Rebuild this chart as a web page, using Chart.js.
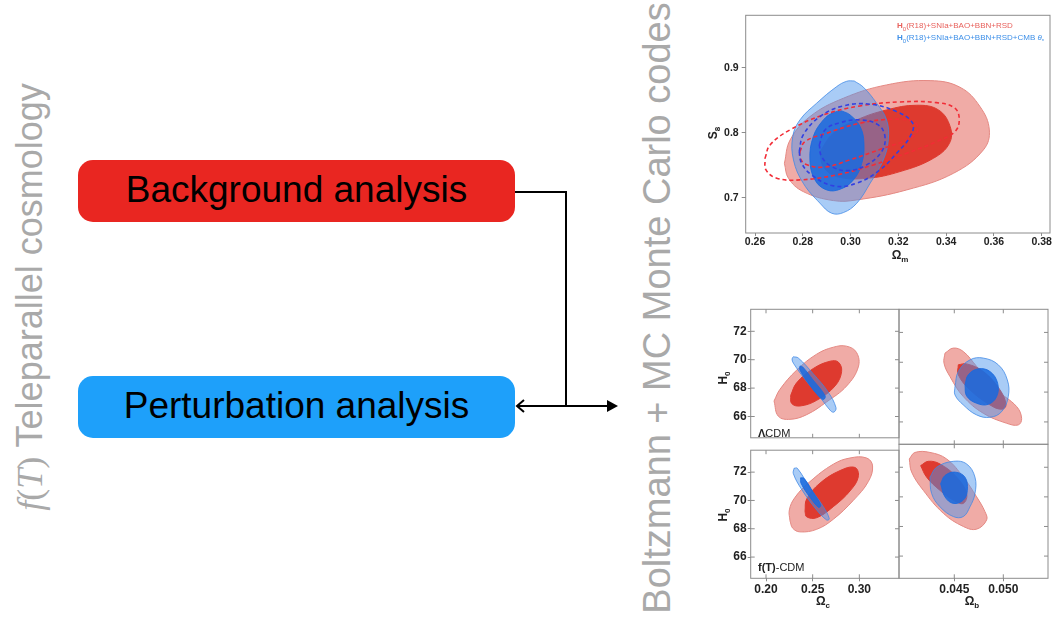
<!DOCTYPE html>
<html>
<head>
<meta charset="utf-8">
<script src="https://cdn.jsdelivr.net/npm/chart.js@4.4.1/dist/chart.umd.min.js"></script>
<style>
  body { margin: 0; width: 1052px; height: 617px; position: relative; overflow: hidden; background: #fff;
         font-family: 'Liberation Sans', Arial, sans-serif; }
  canvas { position: absolute; }
  .lbl { position: absolute; white-space: nowrap; }
  .rot { position: absolute; white-space: nowrap; transform: translate(-50%, -50%) rotate(-90deg); }
  .box { position: absolute; left: 78px; width: 437px; height: 62px; border-radius: 15px;
         color: #000; font-size: 37px; line-height: 60px; text-align: center; }
  .side { color: #a9a9a9; font-size: 36px; }
  .ax { font-weight: bold; font-size: 12px; color: #222; }
  .ax sub { font-size: 8px; }
  .legend { font-size: 8px; line-height: 12px; }
  .legend sub { font-size: 6px; }
</style>
</head>
<body>

<!-- left diagram -->
<div class="rot side" style="left:30px; top:297px;"><span style="font-family:'Liberation Serif',serif;"><i>f</i>(<i>T</i>)</span> Teleparallel cosmology</div>
<div class="box" style="top:160px; background:#E92621;">Background analysis</div>
<div class="box" style="top:376px; background:#1EA0FA;">Perturbation analysis</div>
<svg class="lbl" style="left:0; top:0;" width="700" height="617">
  <polyline points="515,192 566,192 566,406" fill="none" stroke="#000" stroke-width="2"/>
  <line x1="517" y1="406" x2="610" y2="406" stroke="#000" stroke-width="2"/>
  <polyline points="524,400 517,406 524,412" fill="none" stroke="#000" stroke-width="2"/>
  <polygon points="607,400 618,406 607,412" fill="#000"/>
</svg>
<div class="rot side" style="left:657px; top:308px; font-size:38px;">Boltzmann + MC Monte Carlo codes</div>

<!-- charts -->
<canvas id="top" width="352" height="270" style="left:700px; top:0;"></canvas>
<canvas id="tl" width="201" height="156" style="left:700px; top:290px;"></canvas>
<canvas id="tr" width="155" height="156" style="left:897px; top:290px;"></canvas>
<canvas id="bl" width="201" height="175" style="left:700px; top:442px;"></canvas>
<canvas id="br" width="155" height="175" style="left:897px; top:442px;"></canvas>

<div class="lbl legend" style="left:897px; top:20px; color:#E8615C;"><b>H</b><sub>0</sub>(R18)+SNIa+BAO+BBN+RSD</div>
<div class="lbl legend" style="left:897px; top:32px; color:#3D8FE8;"><b>H</b><sub>0</sub>(R18)+SNIa+BAO+BBN+RSD+CMB <i>θ</i><sub>*</sub></div>

<div class="rot ax" style="left:714px; top:133px;">S<sub>8</sub></div>
<div class="lbl ax" style="left:900px; top:256px; transform:translate(-50%,-50%);">Ω<sub>m</sub></div>
<div class="rot ax" style="left:724px; top:378px;">H<sub>0</sub></div>
<div class="rot ax" style="left:724px; top:515px;">H<sub>0</sub></div>
<div class="lbl ax" style="left:823px; top:602px; transform:translate(-50%,-50%);">Ω<sub>c</sub></div>
<div class="lbl ax" style="left:972px; top:602px; transform:translate(-50%,-50%);">Ω<sub>b</sub></div>
<div class="lbl" style="left:758px; top:427px; font-size:11px; color:#222;"><b>Λ</b>CDM</div>
<div class="lbl" style="left:758px; top:561px; font-size:11px; color:#222;"><b>f(T)</b>-CDM</div>

<script>
// ---- top panel: Omega_m vs S8 ----
const omTicks = [0.26, 0.28, 0.30, 0.32, 0.34, 0.36, 0.38];
const s8Ticks = [0.7, 0.8, 0.9];

// filled contours [Omega_m, S8]
const redOuter = [[0.2723,0.7533],[0.2747,0.7892],[0.2830,0.8251],[0.2970,0.8534],[0.3151,0.8739],[0.3333,0.8805],[0.3458,0.8703],[0.3542,0.8405],[0.3581,0.8046],[0.3556,0.7738],[0.3431,0.7379],[0.3235,0.7123],[0.3026,0.6969],[0.2928,0.6959],[0.2802,0.7097],[0.2740,0.7302]];
const redInner = [[0.2872,0.7713],[0.2928,0.7995],[0.3026,0.8200],[0.3151,0.8354],[0.3277,0.8426],[0.3368,0.8354],[0.3417,0.8097],[0.3414,0.7841],[0.3347,0.7610],[0.3207,0.7405],[0.3068,0.7302],[0.2942,0.7328],[0.2886,0.7482]];
const blueOuter = [[0.3015,0.8800],[0.3054,0.8703],[0.3109,0.8457],[0.3151,0.8200],[0.3158,0.7892],[0.3137,0.7584],[0.3082,0.7226],[0.3026,0.6918],[0.2970,0.6774],[0.2921,0.6764],[0.2872,0.6918],[0.2802,0.7226],[0.2761,0.7584],[0.2758,0.7944],[0.2788,0.8200],[0.2858,0.8457],[0.2942,0.8713],[0.2984,0.8795]];
const blueInner = [[0.2963,0.8339],[0.2998,0.8277],[0.3040,0.8097],[0.3056,0.7841],[0.3047,0.7533],[0.3012,0.7277],[0.2956,0.7133],[0.2900,0.7123],[0.2851,0.7277],[0.2830,0.7584],[0.2844,0.7944],[0.2886,0.8200],[0.2928,0.8313]];
// dashed contours
const redDashOuter = [[0.2642,0.7611],[0.2663,0.7815],[0.2746,0.8046],[0.2886,0.8277],[0.3039,0.8415],[0.3207,0.8477],[0.3360,0.8466],[0.3437,0.8380],[0.3455,0.8200],[0.3437,0.8020],[0.3360,0.7866],[0.3235,0.7688],[0.3095,0.7508],[0.2942,0.7354],[0.2788,0.7277],[0.2691,0.7303],[0.2646,0.7431]];
const redDashInner = [[0.2788,0.7712],[0.2809,0.7866],[0.2900,0.7995],[0.3039,0.8149],[0.3179,0.8211],[0.3262,0.8174],[0.3283,0.8057],[0.3249,0.7918],[0.3137,0.7765],[0.2997,0.7585],[0.2886,0.7472],[0.2809,0.7523],[0.2788,0.7626]];
const blueDashOuter = [[0.2785,0.7712],[0.2802,0.7969],[0.2872,0.8251],[0.2969,0.8415],[0.3081,0.8442],[0.3193,0.8328],[0.3260,0.8149],[0.3249,0.7943],[0.3193,0.7688],[0.3123,0.7431],[0.3026,0.7226],[0.2928,0.7185],[0.2837,0.7354],[0.2795,0.7534]];
const blueDashInner = [[0.2869,0.7815],[0.2893,0.8046],[0.2956,0.8158],[0.3039,0.8200],[0.3116,0.8123],[0.3144,0.7943],[0.3130,0.7712],[0.3067,0.7508],[0.2990,0.7420],[0.2921,0.7482],[0.2879,0.7635]];

// ---- bottom panels: H0 against Omega_c / Omega_b ----
const ocTicks = [0.20, 0.25, 0.30];
const obTicks = [0.045, 0.050];
const h0Ticks = [66, 68, 70, 72];

// LCDM, Omega_c vs H0
const lcdmOcRedOuter = [[0.2086,67.09],[0.2150,67.92],[0.2329,69.27],[0.2543,70.39],[0.2721,70.88],[0.2864,70.95],[0.2971,70.50],[0.2989,69.49],[0.2864,68.15],[0.2650,67.03],[0.2436,66.13],[0.2257,65.80],[0.2132,66.02]];
const lcdmOcRedInner = [[0.2264,67.48],[0.2328,68.37],[0.2507,69.38],[0.2685,69.89],[0.2775,69.83],[0.2810,69.16],[0.2739,68.15],[0.2543,67.14],[0.2364,66.74],[0.2275,66.92]];
const lcdmOcBlueOuter = [[0.2293,70.21],[0.2346,70.12],[0.2507,69.00],[0.2668,67.70],[0.2750,66.62],[0.2728,66.31],[0.2693,66.40],[0.2585,67.30],[0.2428,68.53],[0.2293,69.76],[0.2279,70.05]];
const lcdmOcBlueInner = [[0.2364,69.56],[0.2393,69.49],[0.2507,68.55],[0.2632,67.48],[0.2621,67.21],[0.2585,67.30],[0.2471,68.19],[0.2364,69.27]];

// LCDM, Omega_b vs H0
const lcdmObRedOuter = [[0.04405,70.61],[0.04490,70.95],[0.04592,70.72],[0.04728,69.72],[0.04932,68.15],[0.05136,67.03],[0.05187,66.24],[0.05153,65.80],[0.05034,65.91],[0.04796,66.58],[0.04592,67.70],[0.04456,69.04],[0.04395,69.94]];
const lcdmObRedInner = [[0.04541,69.83],[0.04626,69.89],[0.04796,69.38],[0.04966,68.15],[0.05027,67.14],[0.04983,66.85],[0.04864,67.14],[0.04660,68.15],[0.04541,69.16]];
const lcdmObBlueOuter = [[0.04507,68.37],[0.04541,69.38],[0.04660,70.16],[0.04796,70.28],[0.04949,69.83],[0.05041,68.82],[0.05051,67.70],[0.04983,66.69],[0.04864,66.31],[0.04728,66.47],[0.04592,67.14],[0.04507,67.81]];
const lcdmObBlueInner = [[0.04609,68.48],[0.04643,69.16],[0.04745,69.56],[0.04864,69.38],[0.04942,68.60],[0.04932,67.70],[0.04847,67.18],[0.04728,67.25],[0.04626,67.74]];

// f(T)-CDM, Omega_c vs H0
const ftOcRedOuter = [[0.2257,68.56],[0.2250,69.33],[0.2311,70.22],[0.2471,71.33],[0.2721,72.56],[0.2900,73.00],[0.3078,73.00],[0.3142,72.44],[0.3096,71.33],[0.2935,70.00],[0.2721,68.67],[0.2543,67.96],[0.2364,67.78],[0.2286,68.04]];
const ftOcRedInner = [[0.2418,69.22],[0.2436,70.11],[0.2578,71.22],[0.2793,72.11],[0.2953,72.33],[0.2989,71.67],[0.2900,70.67],[0.2721,69.56],[0.2543,68.78],[0.2436,68.84]];
const ftOcBlueOuter = [[0.2300,72.27],[0.2336,72.27],[0.2471,70.89],[0.2614,69.56],[0.2678,68.71],[0.2650,68.62],[0.2543,69.33],[0.2382,70.78],[0.2293,71.89]];
const ftOcBlueInner = [[0.2371,71.60],[0.2407,71.56],[0.2507,70.56],[0.2586,69.67],[0.2564,69.51],[0.2471,70.22],[0.2375,71.22]];

// f(T)-CDM, Omega_b vs H0
const ftObRedOuter = [[0.04041,72.56],[0.04099,73.00],[0.04252,73.00],[0.04422,72.56],[0.04592,71.33],[0.04728,70.00],[0.04813,69.00],[0.04830,68.44],[0.04728,67.82],[0.04592,68.00],[0.04388,68.89],[0.04184,70.44],[0.04065,71.67]];
const ftObRedInner = [[0.04157,72.11],[0.04235,72.40],[0.04354,72.22],[0.04524,71.33],[0.04626,70.22],[0.04592,69.56],[0.04490,69.78],[0.04354,70.44],[0.04218,71.33]];
const ftObBlueOuter = [[0.04252,71.33],[0.04320,72.00],[0.04490,72.40],[0.04626,72.22],[0.04711,71.33],[0.04711,70.22],[0.04660,69.33],[0.04592,68.67],[0.04490,68.67],[0.04354,69.33],[0.04269,70.22]];
const ftObBlueInner = [[0.04361,70.89],[0.04405,71.44],[0.04507,71.67],[0.04609,71.33],[0.04633,70.44],[0.04592,69.78],[0.04490,69.56],[0.04405,70.00]];

// styles
const COL = {
  redLight: '#F0ABA6', redEdge: '#E48983',
  redDark: '#DE3A2F',
  blueLight: 'rgba(72,146,236,0.47)', blueEdge: 'rgba(60,135,230,0.75)',
  blueDark: 'rgba(26,106,222,0.87)',
  redDash: '#F22C36', blueDash: '#3140E2',
  frame: '#8c8c8c', tick: '#222'
};
const topFont = { family: "'Liberation Sans', Arial, sans-serif", size: 10.5, weight: 'bold' };
const panelFont = { family: "'Liberation Sans', Arial, sans-serif", size: 12, weight: 'bold' };

function closed(pts) {
  return pts.concat([pts[0]]).map(p => ({ x: p[0], y: p[1] }));
}
function filled(pts, bg, edge) {
  return { data: closed(pts), showLine: true, fill: 'shape', backgroundColor: bg,
           borderColor: edge || bg, borderWidth: 1, pointRadius: 0, tension: 0.4 };
}
function dashed(pts, color) {
  return { data: closed(pts), showLine: true, fill: false, borderColor: color,
           borderWidth: 1.6, borderDash: [4, 3], pointRadius: 0, tension: 0.4 };
}

// box around the plot area + small inward ticks
const framePlugin = {
  id: 'frame',
  afterDatasetsDraw(chart, args, opts) {
    const { ctx, chartArea: a, scales } = chart;
    const len = opts.len || 0;
    ctx.save();
    ctx.strokeStyle = COL.frame;
    ctx.lineWidth = 1;
    ctx.strokeRect(a.left, a.top, a.right - a.left, a.bottom - a.top);
    ctx.beginPath();
    (opts.x || []).forEach(v => {
      const p = scales.x.getPixelForValue(v);
      ctx.moveTo(p, a.top); ctx.lineTo(p, a.top + len);
      ctx.moveTo(p, a.bottom); ctx.lineTo(p, a.bottom - len);
    });
    (opts.y || []).forEach(v => {
      const p = scales.y.getPixelForValue(v);
      ctx.moveTo(a.left, p); ctx.lineTo(a.left + len, p);
      ctx.moveTo(a.right, p); ctx.lineTo(a.right - len, p);
    });
    ctx.stroke();
    ctx.restore();
  }
};

function axis(min, max, ticks, fmt, show, size, tickLen, pad, font) {
  return {
    type: 'linear', min: min, max: max,
    display: true,
    afterBuildTicks: s => { s.ticks = ticks.map(v => ({ value: v })); },
    afterFit: s => { if (s.isHorizontal()) s.height = size; else s.width = size; },
    ticks: { display: show, callback: fmt, font: font || panelFont, color: COL.tick, padding: pad, autoSkip: false, maxRotation: 0 },
    grid: { display: show, drawOnChartArea: false, tickLength: tickLen, color: COL.frame },
    border: { display: false }
  };
}

function makeChart(id, datasets, scales, padding, inTicks) {
  return new Chart(document.getElementById(id), {
    type: 'scatter',
    data: { datasets: datasets.slice().reverse() },   // first dataset is drawn on top
    options: {
      responsive: false, animation: false, events: [],
      layout: { padding: padding },
      plugins: { legend: { display: false }, tooltip: { enabled: false }, frame: inTicks },
      scales: scales
    },
    plugins: [framePlugin]
  });
}

// top panel
makeChart('top', [
  filled(redOuter, COL.redLight, COL.redEdge),
  filled(redInner, COL.redDark),
  filled(blueOuter, COL.blueLight, COL.blueEdge),
  filled(blueInner, COL.blueDark),
  dashed(redDashOuter, COL.redDash),
  dashed(redDashInner, COL.redDash),
  dashed(blueDashOuter, COL.blueDash),
  dashed(blueDashInner, COL.blueDash)
], {
  x: axis(0.2561, 0.3835, omTicks, v => v.toFixed(2), true, 37, 3, 0, topFont),
  y: axis(0.646, 0.981, s8Ticks, v => v.toFixed(1), true, 45.7, 4, 3, topFont)
}, { top: 15.3, right: 2, left: 0, bottom: 0 }, { len: 0 });

const ocFmt = v => v.toFixed(2), obFmt = v => v.toFixed(3), h0Fmt = v => String(v);
const H0MIN = 64.5, H0MAX = 73.55;

makeChart('tl', [
  filled(lcdmOcRedOuter, COL.redLight, COL.redEdge),
  filled(lcdmOcRedInner, COL.redDark),
  filled(lcdmOcBlueOuter, COL.blueLight, COL.blueEdge),
  filled(lcdmOcBlueInner, COL.blueDark)
], {
  x: axis(0.1836, 0.3425, ocTicks, ocFmt, false, 0, 0, 0),
  y: axis(H0MIN, H0MAX, h0Ticks, h0Fmt, true, 50.7, 3, 1)
}, { top: 19.3, right: 2, left: 0, bottom: 1.7 }, { len: 4, x: ocTicks, y: h0Ticks });

makeChart('tr', [
  filled(lcdmObRedOuter, COL.redLight, COL.redEdge),
  filled(lcdmObRedInner, COL.redDark),
  filled(lcdmObBlueOuter, COL.blueLight, COL.blueEdge),
  filled(lcdmObBlueInner, COL.blueDark)
], {
  x: axis(0.03936, 0.05456, obTicks, obFmt, false, 0, 0, 0),
  y: axis(H0MIN, H0MAX, h0Ticks, h0Fmt, false, 0, 0, 0)
}, { top: 19.3, right: 4, left: 2, bottom: 1.7 }, { len: 4, x: obTicks, y: h0Ticks });

makeChart('bl', [
  filled(ftOcRedOuter, COL.redLight, COL.redEdge),
  filled(ftOcRedInner, COL.redDark),
  filled(ftOcBlueOuter, COL.blueLight, COL.blueEdge),
  filled(ftOcBlueInner, COL.blueDark)
], {
  x: axis(0.1836, 0.3425, ocTicks, ocFmt, true, 38.7, 3, 1),
  y: axis(H0MIN, H0MAX, h0Ticks, h0Fmt, true, 50.7, 3, 1)
}, { top: 2.3, right: 2, left: 0, bottom: 0 }, { len: 4, x: ocTicks, y: h0Ticks });

makeChart('br', [
  filled(ftObRedOuter, COL.redLight, COL.redEdge),
  filled(ftObRedInner, COL.redDark),
  filled(ftObBlueOuter, COL.blueLight, COL.blueEdge),
  filled(ftObBlueInner, COL.blueDark)
], {
  x: axis(0.03936, 0.05456, obTicks, obFmt, true, 38.7, 3, 1),
  y: axis(H0MIN, H0MAX, h0Ticks, h0Fmt, false, 0, 0, 0)
}, { top: 2.3, right: 4, left: 2, bottom: 0 }, { len: 4, x: obTicks, y: h0Ticks });
</script>
</body>
</html>
